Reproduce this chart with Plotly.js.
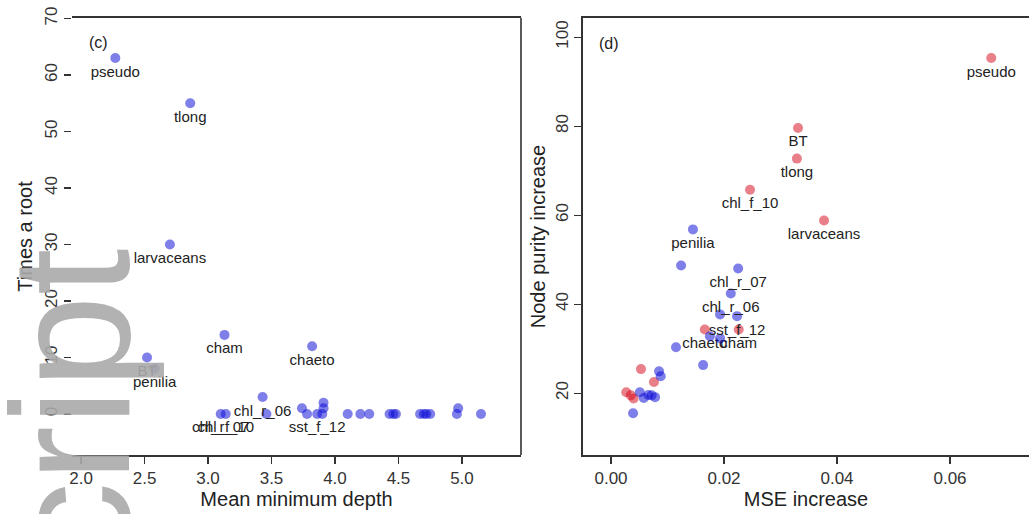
<!DOCTYPE html>
<html>
<head>
<meta charset="utf-8">
<script src="https://cdn.plot.ly/plotly-3.0.1.min.js"></script>
<style>
html,body{margin:0;padding:0;background:#fff;overflow:hidden;}
#chart{width:1029px;height:514px;}
</style>
</head>
<body>
<div id="chart"></div>
<script>
// ---------- Panel (c): Mean minimum depth vs Times a root ----------
var cNames = ['pseudo','tlong','larvaceans','cham','chaeto','BT','penilia','chl_r_06','chl_r_07','chl_f_10','sst_f_12',
              '','','','','','','','','','','','','','','','','','',''];
var cDepth = [2.27, 2.86, 2.70, 3.13, 3.82, 2.52, 2.58, 3.43, 3.10, 3.14, 3.86,
              3.46, 3.74, 3.78, 3.91, 3.91, 3.90, 4.10, 4.20, 4.27, 4.43, 4.46, 4.48, 4.67, 4.70, 4.72, 4.75, 4.97, 4.96, 5.15];
var cRoot  = [63, 55, 30, 14, 12, 10, 8, 3, 0, 0, 0,
              0, 1, 0, 2, 1, 0, 0, 0, 0, 0, 0, 0, 0, 0, 0, 0, 1, 0, 0];

// ---------- Panel (d): MSE increase vs Node purity increase ----------
var dNames  = ['pseudo','BT','tlong','chl_f_10','larvaceans','penilia','','chl_r_07','chl_r_06','','sst_f_12','chaeto','cham',
               '','','','','','','','','','','','','','','','',''];
var dMse    = [0.0673, 0.0331, 0.0329, 0.0246, 0.0377, 0.0145, 0.0124, 0.0225, 0.0212, 0.0193, 0.0223, 0.0166, 0.0226,
               0.0175, 0.0193, 0.0115, 0.0163, 0.0053, 0.0085, 0.0088, 0.0076, 0.0027, 0.0035, 0.0040, 0.0051, 0.0066, 0.0072, 0.0078, 0.0058, 0.0039];
var dPurity = [95.3, 79.6, 72.7, 65.7, 58.8, 56.8, 48.7, 48.0, 42.4, 37.7, 37.3, 34.3, 34.3,
               32.8, 32.3, 30.3, 26.3, 25.4, 24.9, 23.8, 22.5, 20.2, 19.5, 18.8, 20.2, 19.6, 19.5, 19.1, 18.9, 15.5];
var dGroup  = ['red','red','red','red','red','blue','blue','blue','blue','blue','blue','red','red',
               'blue','blue','blue','blue','red','blue','blue','red','red','red','red','blue','blue','blue','blue','blue','blue'];

// ---------- Axis ticks ----------
var cXTicks = [2.0, 2.5, 3.0, 3.5, 4.0, 4.5, 5.0];
var cXTickText = ['2.0','2.5','3.0','3.5','4.0','4.5','5.0'];
var cYTicks = [0, 10, 20, 30, 40, 50, 60, 70];
var dXTicks = [0, 0.02, 0.04, 0.06];
var dXTickText = ['0.00','0.02','0.04','0.06'];
var dYTicks = [20, 40, 60, 80, 100];

var BLUE = 'rgba(10,10,215,0.52)';
var RED = 'rgba(212,0,18,0.5)';
var FONT = 'Liberation Sans, Arial, sans-serif';
var LABELFONT = {family: FONT, size: 15, color: '#222'};

function pick(arr, grp, g){ return arr.filter(function(v,i){ return grp[i] === g; }); }

var traces = [
  {
    type: 'scatter', mode: 'markers+text', xaxis: 'x', yaxis: 'y',
    x: cDepth, y: cRoot, text: cNames, textposition: 'bottom center',
    textfont: LABELFONT, cliponaxis: false,
    marker: {size: 10, color: BLUE, line: {width: 0}},
    hoverinfo: 'x+y+text'
  }
];
['red','blue'].forEach(function(g){
  traces.push({
    type: 'scatter', mode: 'markers+text', xaxis: 'x2', yaxis: 'y2',
    x: pick(dMse, dGroup, g), y: pick(dPurity, dGroup, g), text: pick(dNames, dGroup, g),
    textposition: 'bottom center', textfont: LABELFONT, cliponaxis: false,
    marker: {size: 10, color: g === 'red' ? RED : BLUE, line: {width: 0}},
    hoverinfo: 'x+y+text'
  });
});

var yDom = [1 - 455/514, 1 - 18/514];
var axLine = '#333';
var tickF = {family: FONT, size: 17, color: '#333'};
var titleF = {family: FONT, size: 20, color: '#222'};

var layout = {
  width: 1029, height: 514,
  margin: {l: 0, r: 0, t: 0, b: 0},
  paper_bgcolor: '#fff', plot_bgcolor: '#fff',
  showlegend: false,
  font: {family: FONT, color: '#222'},
  xaxis: {
    domain: [72/1029, 521/1029], range: [1.929, 5.465], anchor: 'y',
    tickvals: cXTicks, ticktext: cXTickText, ticks: 'outside', ticklen: 7, tickwidth: 1.2, tickcolor: axLine,
    showline: true, mirror: true, linecolor: axLine, linewidth: 1.6,
    showgrid: false, zeroline: false, tickfont: tickF,
    title: {text: 'Mean minimum depth', font: titleF, standoff: 3}
  },
  yaxis: {
    domain: yDom, range: [-7.26, 70.09], anchor: 'x',
    tickvals: cYTicks, ticks: 'outside', ticklen: 7, tickwidth: 1.2, tickcolor: axLine,
    tickangle: -90, showline: false, showgrid: false, zeroline: false, tickfont: tickF,
    title: {text: 'Times a root', font: titleF, standoff: 4}
  },
  xaxis2: {
    domain: [583/1029, 1], range: [-0.00496, 0.07398], anchor: 'y2',
    tickvals: dXTicks, ticktext: dXTickText, ticks: 'outside', ticklen: 7, tickwidth: 1.2, tickcolor: axLine,
    showline: true, mirror: true, linecolor: axLine, linewidth: 1.6,
    showgrid: false, zeroline: false, tickfont: tickF,
    title: {text: 'MSE increase', font: titleF, standoff: 3}
  },
  yaxis2: {
    domain: yDom, range: [6.1, 104.3], anchor: 'x2',
    tickvals: dYTicks, ticks: 'outside', ticklen: 7, tickwidth: 1.2, tickcolor: axLine,
    tickangle: -90, showline: true, mirror: false, linecolor: axLine, linewidth: 1.6,
    showgrid: false, zeroline: false, tickfont: tickF,
    title: {text: 'Node purity increase', font: titleF, standoff: 1}
  },
  shapes: [
    {type: 'line', xref: 'x domain', yref: 'y domain', x0: 1, x1: 1, y0: 0, y1: 1,
     line: {color: axLine, width: 1.6}}
  ],
  annotations: [
    {text: '(c)', xref: 'paper', yref: 'paper', x: 87/1029, y: 1 - 42/514, xanchor: 'left', yanchor: 'middle',
     showarrow: false, font: {family: FONT, size: 16, color: '#222'}},
    {text: '(d)', xref: 'paper', yref: 'paper', x: 597/1029, y: 1 - 43/514, xanchor: 'left', yanchor: 'middle',
     showarrow: false, font: {family: FONT, size: 16, color: '#222'}},
    {text: 'cript', xref: 'paper', yref: 'paper', x: 71/1029, y: 1 - 408/514, xanchor: 'center', yanchor: 'middle',
     textangle: -90, showarrow: false, opacity: 0.9,
     font: {family: FONT, size: 168, color: '#aaaaaa'}}
  ]
};

Plotly.newPlot('chart', traces, layout, {displayModeBar: false, staticPlot: true});
</script>
</body>
</html>
